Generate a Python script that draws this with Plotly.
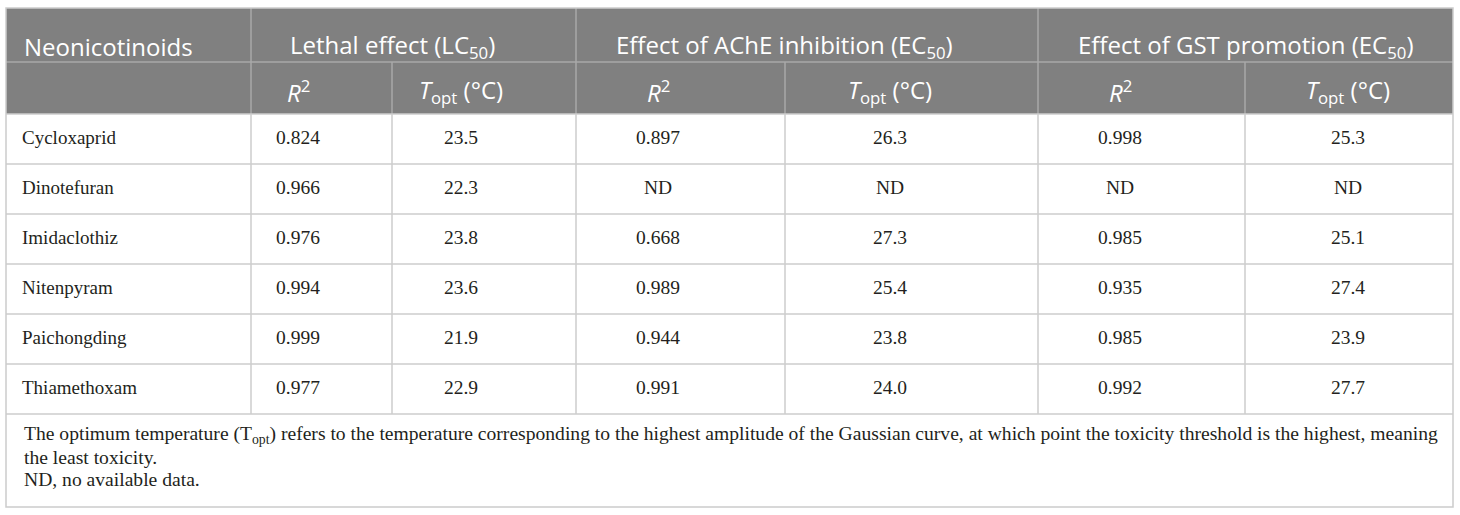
import plotly.graph_objects as go

# Tabellendaten (None = ND, keine Daten)
compounds = ["Cycloxaprid", "Dinotefuran", "Imidaclothiz", "Nitenpyram", "Paichongding", "Thiamethoxam"]
lethal_r2 = [0.824, 0.966, 0.976, 0.994, 0.999, 0.977]
lethal_topt = [23.5, 22.3, 23.8, 23.6, 21.9, 22.9]
ache_r2 = [0.897, None, 0.668, 0.989, 0.944, 0.991]
ache_topt = [26.3, None, 27.3, 25.4, 23.8, 24.0]
gst_r2 = [0.998, None, 0.985, 0.935, 0.985, 0.992]
gst_topt = [25.3, None, 25.1, 27.4, 23.9, 27.7]

first_header = "Neonicotinoids"
group_headers = ["Lethal effect (LC<sub>50</sub>)",
                 "Effect of AChE inhibition (EC<sub>50</sub>)",
                 "Effect of GST promotion (EC<sub>50</sub>)"]
sub_headers = ["<i>R</i><sup>2</sup>", "<i>T</i><sub>opt</sub> (°C)"] * 3
footnote_lines = [
    "The optimum temperature (T<sub>opt</sub>) refers to the temperature corresponding to the highest amplitude "
    "of the Gaussian curve, at which point the toxicity threshold is the highest, meaning",
    "the least toxicity.",
    "ND, no available data.",
]

# Layout (Pixelkoordinaten)
W, H = 1460, 515
col_edges = [6, 251, 392, 576, 785, 1038, 1245, 1453]
text_x = [298, 461, 658, 890, 1120, 1348]
group_x = [392, 784, 1245]
y_top, y_mid, y_body = 8, 62, 114
row_h = 50
foot_bottom = 507
foot_y = [435, 457, 479]

head_bg = "rgb(128,128,128)"
head_line = "rgb(168,168,168)"
grid = "rgb(204,204,204)"
txt = "rgb(35,31,32)"
sans = "Open Sans"
serif = "Liberation Serif"


def fmt(v, nd):
    if v is None:
        return "ND"
    return f"{v:.{nd}f}"


columns = [
    [fmt(v, 3) for v in lethal_r2],
    [fmt(v, 1) for v in lethal_topt],
    [fmt(v, 3) for v in ache_r2],
    [fmt(v, 1) for v in ache_topt],
    [fmt(v, 3) for v in gst_r2],
    [fmt(v, 1) for v in gst_topt],
]

n_rows = len(compounds)
row_edges = [y_body + i * row_h for i in range(n_rows + 1)]
row_centers = [y_body + (i + 0.5) * row_h for i in range(n_rows)]

fig = go.Figure()

# Namen der Wirkstoffe
fig.add_trace(go.Scatter(
    x=[22] * n_rows, y=row_centers, text=compounds, mode="text",
    textposition="middle right", hoverinfo="skip", showlegend=False,
    textfont=dict(family=serif, size=19, color=txt),
))

# Werte
for cx, vals in zip(text_x, columns):
    fig.add_trace(go.Scatter(
        x=[cx] * n_rows, y=row_centers, text=vals, mode="text",
        textposition="middle center", hoverinfo="skip", showlegend=False,
        textfont=dict(family=serif, size=19.5, color=txt),
    ))

shapes = []
# Kopfbereich grau
shapes.append(dict(type="rect", x0=col_edges[0], x1=col_edges[-1], y0=y_top, y1=y_body,
                   fillcolor=head_bg, line=dict(width=0), layer="below"))
# Linien im Kopf
shapes.append(dict(type="line", x0=col_edges[0], x1=col_edges[-1], y0=y_mid, y1=y_mid,
                   line=dict(color=head_line, width=1.5)))
for i, xe in enumerate(col_edges[1:-1], start=1):
    y0 = y_top if i in (1, 3, 5) else y_mid
    shapes.append(dict(type="line", x0=xe, x1=xe, y0=y0, y1=y_body,
                       line=dict(color=head_line, width=1.5)))
# Gitter im Tabellenkoerper
for ye in row_edges:
    shapes.append(dict(type="line", x0=col_edges[0], x1=col_edges[-1], y0=ye, y1=ye,
                       line=dict(color=grid, width=1.5)))
for xe in col_edges[1:-1]:
    shapes.append(dict(type="line", x0=xe, x1=xe, y0=y_body, y1=row_edges[-1],
                       line=dict(color=grid, width=1.5)))
# Rahmen aussen
shapes.append(dict(type="rect", x0=col_edges[0], x1=col_edges[-1], y0=y_top, y1=foot_bottom,
                   line=dict(color=grid, width=1.5), fillcolor="rgba(0,0,0,0)"))

annotations = []
annotations.append(dict(x=22, y=46, text=first_header, xanchor="left",
                        showarrow=False, font=dict(family=sans, size=24, color="white")))
for gx, g in zip(group_x, group_headers):
    annotations.append(dict(x=gx, y=46, text=g, showarrow=False,
                            font=dict(family=sans, size=24, color="white")))
for cx, s in zip(text_x, sub_headers):
    annotations.append(dict(x=cx, y=91, text=s, showarrow=False,
                            font=dict(family=sans, size=24, color="white")))
for fy, line in zip(foot_y, footnote_lines):
    annotations.append(dict(x=22, y=fy, text=line, xanchor="left", showarrow=False,
                            font=dict(family=serif, size=19.6, color=txt)))

fig.update_layout(
    width=W, height=H,
    margin=dict(l=0, r=0, t=0, b=0),
    paper_bgcolor="white", plot_bgcolor="white",
    xaxis=dict(range=[0, W], visible=False, fixedrange=True),
    yaxis=dict(range=[H, 0], visible=False, fixedrange=True),
    shapes=shapes, annotations=annotations,
)

fig.write_html("out.html", config={"displayModeBar": False},
               post_script="document.body.style.margin='0px';")
